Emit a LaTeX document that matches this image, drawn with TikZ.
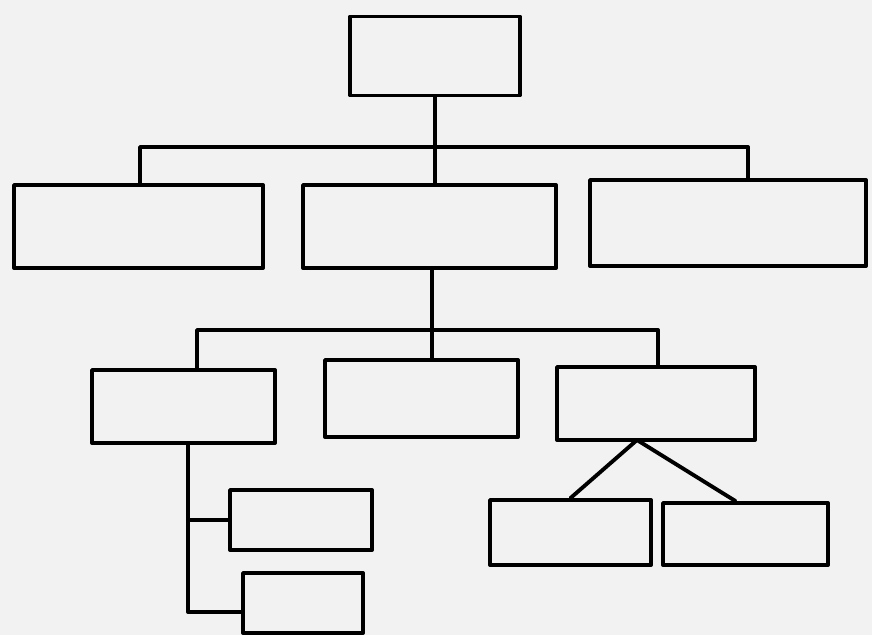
\documentclass[tikz,border=0pt]{standalone}
\usepackage{xcolor}
\usepackage{tikz}
\usetikzlibrary{positioning,calc}
\definecolor{paper}{HTML}{F2F2F2}
\tikzset{%
  % boxes
  card/.style 2 args={draw, line width=2.2pt, line join=round, inner sep=0pt,
    minimum width=#1*0.02cm, minimum height=#2*0.02cm},
  % edge styles
  link/.style={line width=2.2pt, line cap=round, line join=round},
}

\begin{document}
\begin{tikzpicture}[x=0.02cm, y=-0.02cm]
  \path[use as bounding box, fill=paper] (0,0) rectangle (872,635);

  \node[card={170}{79}] (top) at (435,56) {};
  \node[card={249}{83}] (b1) at (138.5,226.5) {};
  \node[card={253}{83}] (b2) at (429.5,226.5) {};
  \node[card={276}{86}] (b3) at (728,223) {};

  \node[card={183}{73}] (c1) at (183.5,406.5) {};
  \node[card={193}{77}] (c2) at (421.5,398.5) {};
  \node[card={198}{73}] (c3) at (656,403.5) {};

  \node[card={142}{60}] (d1) at (301,520) {};
  \node[card={120}{60}] (d2) at (303,603) {};
  \node[card={161}{65}] (e1) at (570.5,532.5) {};
  \node[card={165}{62}] (e2) at (745.5,534) {};

  % first level
  \coordinate (j1) at (140,147);
  \coordinate (j2) at (435,147);
  \coordinate (j3) at (748,147);
  \draw[link] (top.south) -- (b2.north -| j2);
  \draw[link] (b1.north -| j1) -- (j1) -- (j3) -- (b3.north -| j3);

  % second level
  \coordinate (k1) at (197,330);
  \coordinate (k2) at (432,330);
  \coordinate (k3) at (658,330);
  \draw[link] (b2.south -| k2) -- (c2.north -| k2);
  \draw[link] (c1.north -| k1) -- (k1) -- (k3) -- (c3.north -| k3);

  % third level
  \coordinate (f3) at (637,440);
  \draw[link] (e1.north) -- (f3) -- ([xshift=-0.2cm]e2.north);
  \coordinate (l3) at (188,612);
  \draw[link] (c1.south -| l3) -- (l3) -- (d2.west |- l3);
  \draw[link] (d1.west -| l3) -- (d1.west);
\end{tikzpicture}
\end{document}
